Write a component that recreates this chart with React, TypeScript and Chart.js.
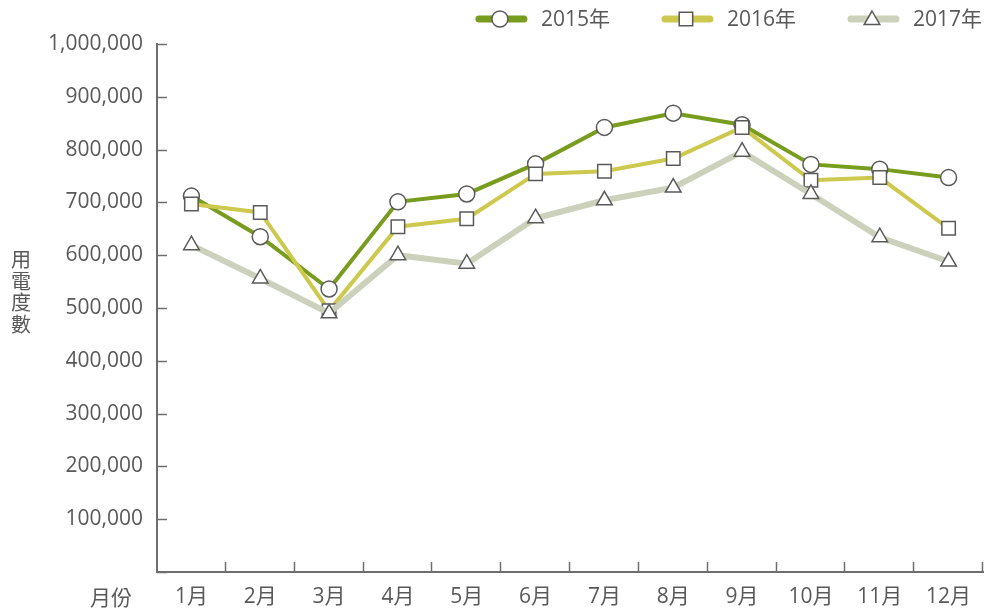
import React, { useEffect, useRef } from "react";
import { Chart, registerables } from "chart.js";

Chart.register(...registerables);

const categories = ["1月", "2月", "3月", "4月", "5月", "6月", "7月", "8月", "9月", "10月", "11月", "12月"];
const seriesNames = ["2015年", "2016年", "2017年"];
const values2015 = [712000, 635000, 536000, 701000, 716000, 773000, 842000, 869000, 847000, 772000, 763000, 747000];
const values2016 = [697000, 681000, 495000, 654000, 669000, 754000, 759000, 783000, 842000, 742000, 747000, 651000];
const values2017 = [619000, 556000, 490000, 600000, 584000, 670000, 704000, 728000, 796000, 716000, 634000, 588000];
const yTitleChars = ["用", "電", "度", "數"];
const xTitle = "月份";

const FONT = "'Open Sans', 'Noto Sans CJK TC', sans-serif";
const TEXT = "#595959";
const AXIS = "#6e6e6e";
const MARKER = "#5a5a5a";
const colors = ["#789c1e", "#cdc94e", "#ccd1bc"];
const lineWidths = [4, 4, 6];
const styles = ["circle", "rect", "triangle"];
const radii = [8, 9.5, 9];

function drawMarker(ctx: CanvasRenderingContext2D, style: string, x: number, y: number, r: number) {
  ctx.beginPath();
  if (style === "circle") {
    ctx.arc(x, y, r, 0, Math.PI * 2);
  } else if (style === "rect") {
    const s = Math.SQRT1_2 * r;
    ctx.rect(x - s, y - s, 2 * s, 2 * s);
  } else {
    const a = (Math.PI * 2) / 3;
    ctx.moveTo(x, y - r);
    ctx.lineTo(x + Math.sin(a) * r, y - Math.cos(a) * r);
    ctx.lineTo(x - Math.sin(a) * r, y - Math.cos(a) * r);
    ctx.closePath();
  }
  ctx.fillStyle = "#ffffff";
  ctx.fill();
  ctx.lineWidth = 1.5;
  ctx.strokeStyle = MARKER;
  ctx.stroke();
}

const decorPlugin = {
  id: "decor",
  afterDraw(chart: any) {
    const ctx: CanvasRenderingContext2D = chart.ctx;
    const { left, top, bottom } = chart.chartArea;
    const xs = chart.scales.x;
    const ys = chart.scales.y;
    ctx.save();
    // inward ticks
    ctx.strokeStyle = AXIS;
    ctx.lineWidth = 1.5;
    ys.ticks.forEach((_t: any, i: number) => {
      const y = Math.round(ys.getPixelForTick(i)) + 0.5;
      ctx.beginPath();
      ctx.moveTo(left, y);
      ctx.lineTo(left + 10, y);
      ctx.stroke();
    });
    for (let i = 1; i <= categories.length; i++) {
      const x = Math.round(xs.getPixelForValue(i - 0.5)) - 0.5;
      ctx.beginPath();
      ctx.moveTo(x, bottom);
      ctx.lineTo(x, bottom - 10);
      ctx.stroke();
    }
    // titles
    ctx.fillStyle = TEXT;
    ctx.font = `20px ${FONT}`;
    ctx.textAlign = "center";
    ctx.textBaseline = "middle";
    const midY = (top + bottom) / 2 - 14;
    yTitleChars.forEach((c, i) => {
      ctx.fillText(c, 21, midY + (i - (yTitleChars.length - 1) / 2) * 21.5);
    });
    ctx.font = `21px ${FONT}`;
    ctx.fillText(xTitle, 111, bottom + 27);
    // legend
    ctx.font = `21px ${FONT}`;
    ctx.textAlign = "left";
    const lineLen = 48;
    const textOff = 65;
    const gap = 52;
    const widths = seriesNames.map((n) => textOff + ctx.measureText(n).width);
    const total = widths.reduce((a, b) => a + b, 0) + gap * (widths.length - 1);
    let x = chart.width - 2 - total;
    const ly = 19;
    seriesNames.forEach((n, i) => {
      ctx.beginPath();
      ctx.lineCap = "round";
      ctx.lineWidth = 7;
      ctx.strokeStyle = colors[i];
      ctx.moveTo(x + 3, ly);
      ctx.lineTo(x + lineLen, ly);
      ctx.stroke();
      drawMarker(ctx, styles[i], x + lineLen / 2, ly + (styles[i] === "triangle" ? 1 : 0), radii[i]);
      ctx.fillStyle = TEXT;
      ctx.fillText(n, x + textOff, ly + 1);
      x += widths[i] + gap;
    });
    ctx.restore();
  },
};

export default function App() {
  const ref = useRef<HTMLCanvasElement | null>(null);
  useEffect(() => {
    if (!ref.current) return;
    const data = [values2015, values2016, values2017];
    const chart = new Chart(ref.current, {
      type: "line",
      data: {
        labels: categories,
        datasets: seriesNames.map((name, i) => ({
          label: name,
          data: data[i],
          borderColor: colors[i],
          borderWidth: lineWidths[i],
          pointStyle: styles[i] as any,
          pointRadius: radii[i],
          pointHoverRadius: radii[i],
          pointBackgroundColor: "#ffffff",
          pointBorderColor: MARKER,
          pointBorderWidth: 1.5,
          tension: 0,
          fill: false,
          order: 3 - i,
        })),
      },
      plugins: [decorPlugin],
      options: {
        animation: false,
        responsive: true,
        maintainAspectRatio: false,
        layout: { autoPadding: false, padding: { top: 44, right: 1, left: 0, bottom: 0 } },
        plugins: { legend: { display: false }, tooltip: { enabled: false } },
        scales: {
          x: {
            type: "category",
            offset: true,
            grid: { display: false, drawTicks: false },
            border: { display: true, color: AXIS, width: 2 },
            ticks: { color: TEXT, font: { size: 21, family: FONT }, padding: 12, maxRotation: 0, autoSkip: false },
            afterFit: (s: any) => {
              s.height = 41;
            },
          },
          y: {
            min: 0,
            max: 1000000,
            grid: { display: false, drawTicks: false },
            border: { display: true, color: AXIS, width: 2 },
            ticks: {
              stepSize: 100000,
              color: TEXT,
              font: { size: 21, family: FONT },
              padding: 14,
              callback: (v: any) => (v === 0 ? "" : Number(v).toLocaleString("en-US")),
            },
            afterFit: (s: any) => {
              s.width = 157;
            },
          },
        },
      },
    });
    return () => chart.destroy();
  }, []);
  return (
    <div style={{ position: "absolute", left: 0, top: 0, width: 984, height: 613 }}>
      <canvas ref={ref} />
    </div>
  );
}
